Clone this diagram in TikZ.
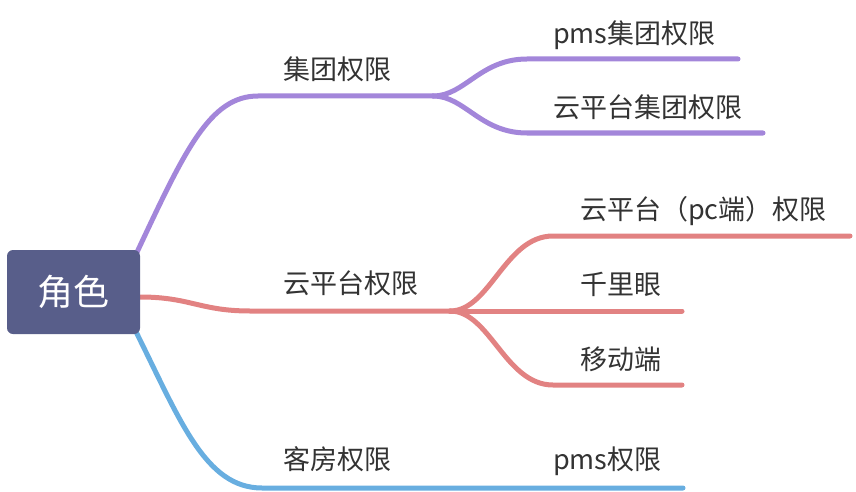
\documentclass[tikz,border=0pt]{standalone}
\usepackage{fontspec}
\newfontfamily\cjk{Noto Sans CJK SC}
\usetikzlibrary{backgrounds}
\definecolor{rootc}{RGB}{88,94,138}
\definecolor{grpc}{RGB}{163,134,218}
\definecolor{yunc}{RGB}{226,130,130}
\definecolor{kfc}{RGB}{104,174,224}
\definecolor{txtc}{RGB}{51,51,51}
\begin{document}
\begin{tikzpicture}[x=1pt,y=-1pt]
\tikzstyle{lbl}=[anchor=base west,inner sep=0pt,text=txtc,font=\cjk\fontsize{27}{27}\selectfont]
\tikzstyle{branch}=[line width=5pt,line cap=round]
\useasboundingbox (0,0) rectangle (856,492);

\node[fill=rootc,rounded corners=6pt,minimum width=133pt,minimum height=84pt,
  text=white,font=\cjk\fontsize{36}{36}\selectfont] (root) at (73.5,292) {角色};

\node[lbl] (grpT) at (283,80) {集团权限};
\node[lbl] (grp1T) at (553,44) {pms集团权限};
\node[lbl] (grp2T) at (553,117.5) {云平台集团权限};
\node[lbl] (yunT) at (283,293) {云平台权限};
\node[lbl] (yun1T) at (580,219.5) {云平台（pc端）权限};
\node[lbl] (yun2T) at (580,294.5) {千里眼};
\node[lbl] (yun3T) at (580,369.5) {移动端};
\node[lbl] (kfT) at (283,469) {客房权限};
\node[lbl] (kf1T) at (553,469) {pms权限};

\coordinate (grpS) at ([shift={(-3pt,-2pt)}]root.north east);
\coordinate (grp) at (258,96);
\coordinate (grpE) at (433,96);
\coordinate (grp1) at (527,59);
\coordinate (grp1E) at (738,59);
\coordinate (grp2) at (527,133);
\coordinate (grp2E) at (763,133);
\coordinate (yunS) at ([yshift=-5pt]root.east);
\coordinate (yun) at (250,311);
\coordinate (yunE) at (450,311);
\coordinate (yun1) at (553,236);
\coordinate (yun1E) at (850,236);
\coordinate (yun2E) at (682,311);
\coordinate (yun3) at (553,385);
\coordinate (yun3E) at (682,385);
\coordinate (kfS) at ([shift={(-5pt,4pt)}]root.south east);
\coordinate (kf) at (262,488);
\coordinate (kfE) at (683,488);

\begin{scope}[on background layer]
\draw[branch,grpc] (grpS) .. controls (185,150) and (210,96) .. (grp) -- (grpE);
\draw[branch,grpc] (grpE) .. controls (465,96) and (480,59) .. (grp1) -- (grp1E);
\draw[branch,grpc] (grpE) .. controls (465,96) and (480,133) .. (grp2) -- (grp2E);
\draw[branch,yunc] (yunS) .. controls (190,297) and (200,311) .. (yun) -- (yunE);
\draw[branch,yunc] (yunE) .. controls (490,311) and (505,236) .. (yun1) -- (yun1E);
\draw[branch,yunc] (yunE) -- (yun2E);
\draw[branch,yunc] (yunE) .. controls (490,311) and (505,385) .. (yun3) -- (yun3E);
\draw[branch,kfc] (kfS) .. controls (180,420) and (205,488) .. (kf) -- (kfE);
\end{scope}
\end{tikzpicture}
\end{document}
